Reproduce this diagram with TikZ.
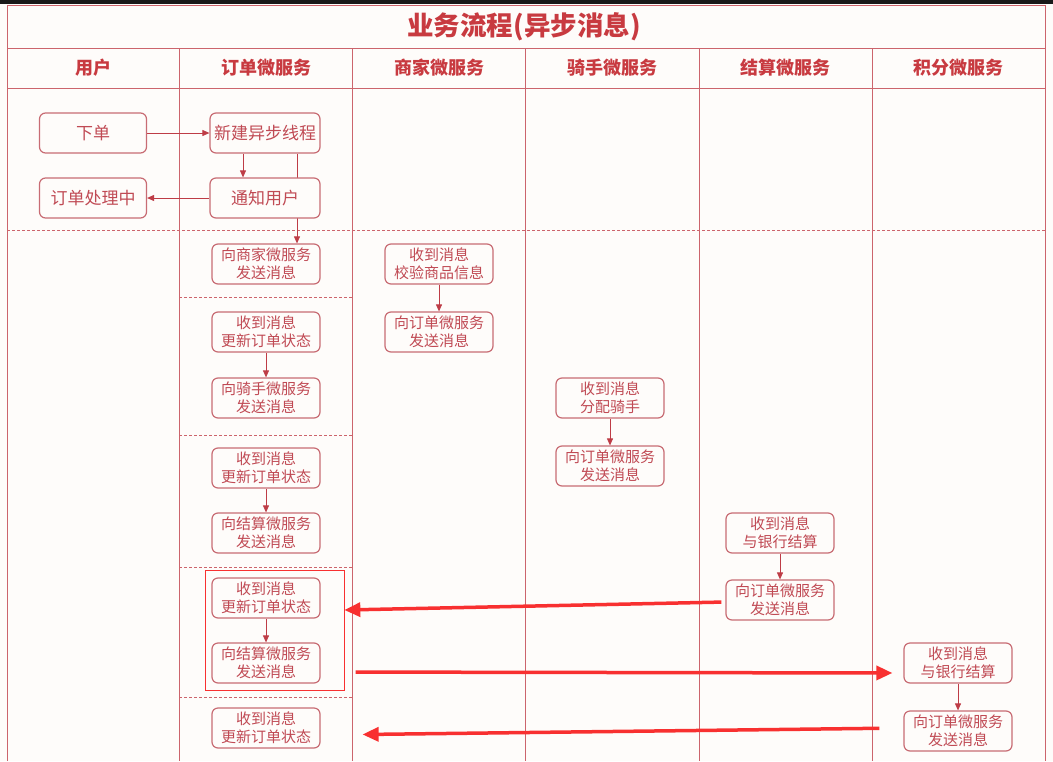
\documentclass[tikz,border=0pt]{standalone}
\usepackage{fontspec}
\setmainfont{Noto Sans CJK SC}
\usetikzlibrary{arrows.meta, backgrounds}

\definecolor{pageBg}{RGB}{254,252,250}
\definecolor{laneRed}{RGB}{204,100,108}
\definecolor{boxRed}{RGB}{200,108,116}
\definecolor{txtRed}{RGB}{192,74,84}
\definecolor{headRed}{RGB}{200,58,64}
\definecolor{flowRed}{RGB}{190,60,70}
\definecolor{noteRed}{RGB}{248,48,48}

\tikzset{
  box/.style={draw=boxRed, line width=1.2pt, fill=pageBg, rounded corners=6pt,
    minimum width=108pt, minimum height=40pt, inner sep=1pt, align=center,
    text=txtRed, font=\fontsize{15}{18}\selectfont},
  bigbox/.style={box, minimum width=110pt, font=\fontsize{17}{20}\selectfont},
  flow/.style={draw=flowRed, line width=0.9pt, -{Triangle[length=7pt,width=6pt]}},
  lane/.style={draw=laneRed, line width=1pt},
  sep/.style={draw=laneRed, line width=0.8pt, dash pattern=on 3pt off 2pt},
  head/.style={text=headRed, font=\bfseries\fontsize{18}{20}\selectfont},
  note/.style={draw=noteRed, line width=3.5pt, -{Triangle[length=16pt,width=14pt]}},
}

\begin{document}
\begin{tikzpicture}[x=1pt, y=-1pt]
    \useasboundingbox (0,0) rectangle (1053,761);

    % Page and lanes
    \begin{scope}[on background layer]
        \fill[pageBg] (0,0) rectangle (1053,761);
        \fill[black!90] (0,0) rectangle (1053,4);
        \draw[lane] (7,761) -- (7,5) -- (1045,5) -- (1045,761);
        \draw[lane] (7,48) -- (1045,48);
        \draw[lane] (7,88) -- (1045,88);
        \foreach \x in {179,352,525,699,872} {
            \draw[lane] (\x,48) -- (\x,761);
        }
        % Stage separators
        \draw[sep] (7,230) -- (1045,230);
        \foreach \y in {297,435,567,697} {
            \draw[sep] (179,\y) -- (352,\y);
        }
    \end{scope}

    % Title and lane headers
    \node[text=headRed, font=\bfseries\fontsize{26.5}{28}\selectfont] (title) at (524,27) {业务流程(异步消息)};
    \node[head] (hUser) at (93,68) {用户};
    \node[head] (hOrder) at (266,68) {订单微服务};
    \node[head] (hMerchant) at (439,68) {商家微服务};
    \node[head] (hRider) at (612,68) {骑手微服务};
    \node[head] (hSettle) at (785,68) {结算微服务};
    \node[head] (hPoints) at (958,68) {积分微服务};

    % User lane
    \node[bigbox, minimum width=107pt] (order) at (93,133) {下单};
    \node[bigbox, minimum width=107pt] (processing) at (93,198) {订单处理中};

    % Order lane
    \node[bigbox] (newThread) at (265,133) {新建异步线程};
    \node[bigbox] (notify) at (265,198) {通知用户};
    \node[box] (toMerchant) at (266,264) {向商家微服务\\发送消息};
    \node[box] (upd1) at (266,332) {收到消息\\更新订单状态};
    \node[box] (toRider) at (266,398) {向骑手微服务\\发送消息};
    \node[box] (upd2) at (266,468) {收到消息\\更新订单状态};
    \node[box] (toSettle) at (266,533) {向结算微服务\\发送消息};
    \node[box] (upd3) at (266,598) {收到消息\\更新订单状态};
    \node[box] (toPoints) at (266,663) {向结算微服务\\发送消息};
    \node[box] (upd4) at (266,728) {收到消息\\更新订单状态};

    % Merchant lane
    \node[box] (mRecv) at (439,264) {收到消息\\校验商品信息};
    \node[box] (mSend) at (439,332) {向订单微服务\\发送消息};

    % Rider lane
    \node[box] (rRecv) at (610,398) {收到消息\\分配骑手};
    \node[box] (rSend) at (610,466) {向订单微服务\\发送消息};

    % Settlement lane
    \node[box] (sRecv) at (780,533) {收到消息\\与银行结算};
    \node[box] (sSend) at (780,600) {向订单微服务\\发送消息};

    % Points lane
    \node[box] (pRecv) at (958,663) {收到消息\\与银行结算};
    \node[box] (pSend) at (958,731) {向订单微服务\\发送消息};

    % Flow arrows
    \begin{scope}[on background layer]
        \draw[flow] (order) -- (newThread);
        \draw[flow] ([xshift=-22pt]newThread.south) -- ([xshift=-22pt]notify.north);
        \draw[flow] (notify) -- (processing);
        \draw[flow] ([xshift=32pt]newThread.south) -- ([xshift=31pt]toMerchant.north);
        \draw[flow] (mRecv) -- (mSend);
        \draw[flow] (upd1) -- (toRider);
        \draw[flow] (rRecv) -- (rSend);
        \draw[flow] (upd2) -- (toSettle);
        \draw[flow] (sRecv) -- (sSend);
        \draw[flow] (upd3) -- (toPoints);
        \draw[flow] (pRecv) -- (pSend);
    \end{scope}

    % Highlight and callouts
    \node[draw=noteRed, line width=0.7pt, minimum width=139pt, minimum height=120pt] (hl) at (274.5,630) {};
    \draw[note, shorten <=4pt] ([yshift=-2pt]sSend.west) -- ([yshift=20pt]hl.east);
    \draw[note, shorten <=35pt, shorten >=11pt] ([yshift=-9pt]toPoints.east) -- ([yshift=-10pt]pRecv.west);
    \draw[note, shorten <=24pt, shorten >=42pt] ([yshift=3pt]pSend.west) -- ([yshift=-7pt]upd4.east);
\end{tikzpicture}
\end{document}
